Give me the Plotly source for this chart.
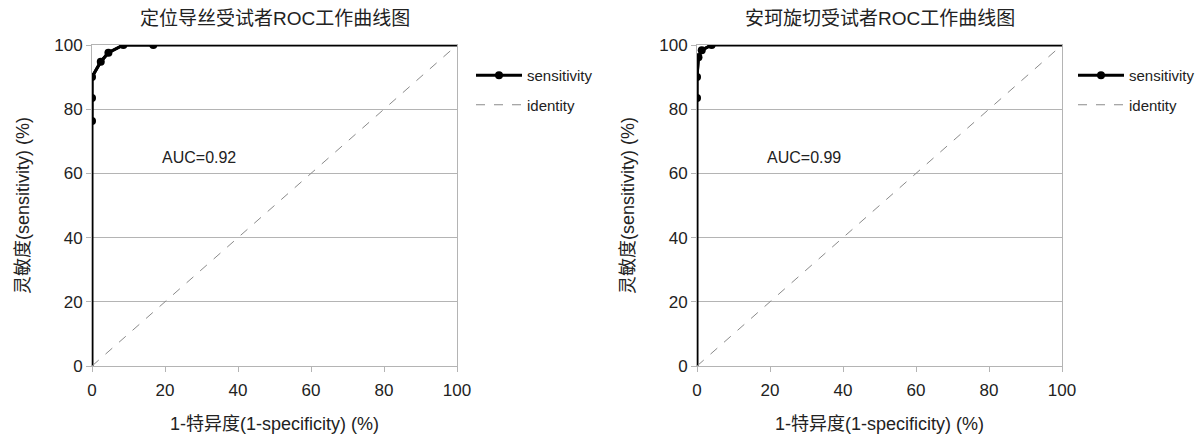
import plotly.graph_objects as go

# ---- data ----
left_fpr = [0, 0, 0, 0, 2.4, 4.5, 8.6, 16.8, 100]
left_tpr = [0, 76.3, 83.5, 90, 94.8, 97.6, 100, 100, 100]
right_fpr = [0, 0, 0, 0.4, 1.3, 4.0, 100]
right_tpr = [0, 83.5, 90, 96.2, 98.4, 100, 100]
identity = [0, 100]
titles = ["定位导丝受试者ROC工作曲线图", "安珂旋切受试者ROC工作曲线图"]
auc_labels = ["AUC=0.92", "AUC=0.99"]
tick_vals = [0, 20, 40, 60, 80, 100]

FONT = "Liberation Sans, Arial, Noto Sans CJK SC, sans-serif"
GRID = "#b4b4b4"

W, H = 1201, 434
def px_x(p): return p / W
def px_y(p): return 1 - p / H

fig = go.Figure()

panels = [
    (left_fpr, left_tpr, "x", "y", "legend"),
    (right_fpr, right_tpr, "x2", "y2", "legend2"),
]
for fpr, tpr, xa, ya, lg in panels:
    fig.add_trace(go.Scatter(x=fpr, y=tpr, mode="lines", xaxis=xa, yaxis=ya,
                             line=dict(color="black", width=3), showlegend=False,
                             hoverinfo="skip"))
    fig.add_trace(go.Scatter(x=fpr[1:-1], y=tpr[1:-1], mode="lines+markers",
                             xaxis=xa, yaxis=ya, name="sensitivity", legend=lg,
                             legendgroup=lg + "a",
                             line=dict(color="black", width=3),
                             marker=dict(color="black", size=8)))
    fig.add_trace(go.Scatter(x=identity, y=identity, mode="lines", xaxis=xa, yaxis=ya,
                             name="identity", legend=lg, legendgroup=lg + "b",
                             line=dict(color="#8a8a8a", width=1, dash="dash")))

axis_common = dict(range=[0, 100], tickvals=tick_vals, showgrid=False,
                   showline=True, linecolor=GRID, linewidth=1, mirror=True,
                   ticks="outside", ticklen=5, tickcolor=GRID,
                   tickfont=dict(size=17, color="#222"), zeroline=False,
                   fixedrange=True, automargin=False)
xaxis_common = dict(axis_common, ticklabelstandoff=4)
yaxis_common = dict(axis_common, showgrid=True, gridcolor=GRID, gridwidth=1)

xdom1 = [px_x(92), px_x(457)]
xdom2 = [px_x(697), px_x(1062)]
ydom = [px_y(366), px_y(45)]

xtitle = dict(text="1-特异度(1-specificity) (%)", font=dict(size=18, color="#222"), standoff=17)
ytitle = dict(text="灵敏度(sensitivity) (%)", font=dict(size=18, color="#222"), standoff=19)

leg_common = dict(xanchor="left", yanchor="top", font=dict(size=15, color="#222"),
                  itemwidth=46, tracegroupgap=7, bgcolor="rgba(0,0,0,0)")

fig.update_layout(
    width=W, height=H,
    margin=dict(l=0, r=0, t=0, b=0, autoexpand=False),
    paper_bgcolor="white", plot_bgcolor="white",
    font=dict(family=FONT, color="#222"),
    xaxis=dict(xaxis_common, domain=xdom1, anchor="y", title=xtitle),
    yaxis=dict(yaxis_common, domain=ydom, anchor="x", title=ytitle),
    xaxis2=dict(xaxis_common, domain=xdom2, anchor="y2", title=xtitle),
    yaxis2=dict(yaxis_common, domain=ydom, anchor="x2", title=ytitle),
    legend=dict(leg_common, x=px_x(471), y=px_y(59)),
    legend2=dict(leg_common, x=px_x(1073), y=px_y(59)),
    showlegend=True,
)

annotations = []
for i, (t, a) in enumerate(zip(titles, auc_labels)):
    xr = "x" if i == 0 else "x2"
    yr = "y" if i == 0 else "y2"
    dom = xdom1 if i == 0 else xdom2
    annotations.append(dict(text=t, x=(dom[0] + dom[1]) / 2, y=px_y(18),
                            xref="paper", yref="paper", showarrow=False,
                            xanchor="center", yanchor="middle",
                            font=dict(size=19, color="#222")))
    annotations.append(dict(text=a, x=18.6, y=65, xref=xr, yref=yr,
                            showarrow=False, xanchor="left", yanchor="middle",
                            font=dict(size=16, color="#222")))
fig.update_layout(annotations=annotations)

fig.write_html("out.html", config={"displayModeBar": False},
               post_script="document.body.style.margin='0';")
